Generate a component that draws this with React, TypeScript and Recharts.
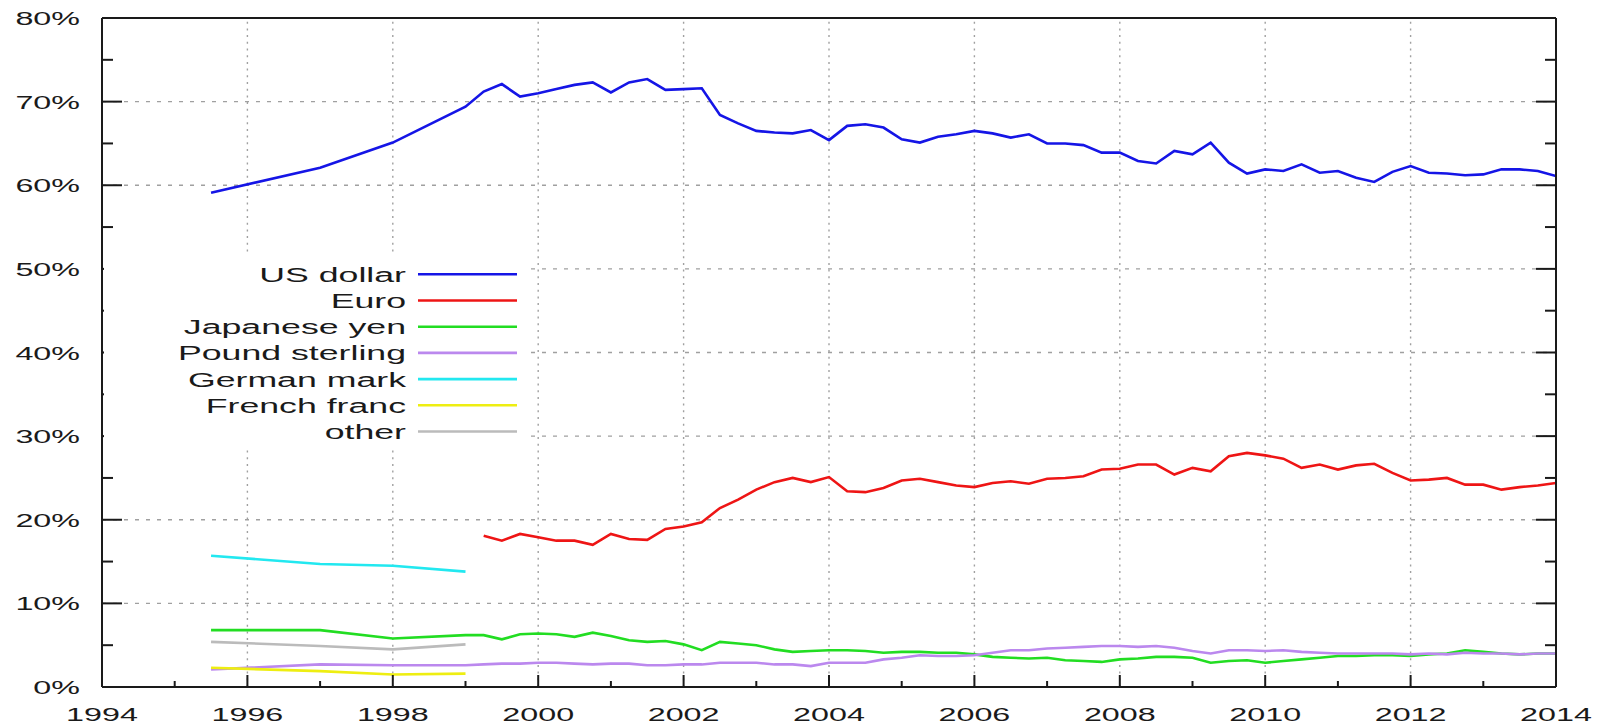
import React from 'react';
import { LineChart, Line, XAxis, YAxis, ReferenceLine, Legend } from 'recharts';

// x positions: annual points before the euro, then quarterly from 1999
const years = [
  1995.5, 1997, 1998, 1999,
  1999.25, 1999.5, 1999.75,
  2000, 2000.25, 2000.5, 2000.75,
  2001, 2001.25, 2001.5, 2001.75,
  2002, 2002.25, 2002.5, 2002.75,
  2003, 2003.25, 2003.5, 2003.75,
  2004, 2004.25, 2004.5, 2004.75,
  2005, 2005.25, 2005.5, 2005.75,
  2006, 2006.25, 2006.5, 2006.75,
  2007, 2007.25, 2007.5, 2007.75,
  2008, 2008.25, 2008.5, 2008.75,
  2009, 2009.25, 2009.5, 2009.75,
  2010, 2010.25, 2010.5, 2010.75,
  2011, 2011.25, 2011.5, 2011.75,
  2012, 2012.25, 2012.5, 2012.75,
  2013, 2013.25, 2013.5, 2013.75,
  2014,
];

const usDollar = [
  59.1, 62.1, 65.1, 69.4,
  71.2, 72.1, 70.6,
  71.0, 71.5, 72.0, 72.3,
  71.1, 72.3, 72.7, 71.4,
  71.5, 71.6, 68.4, 67.4,
  66.5, 66.3, 66.2, 66.6,
  65.4, 67.1, 67.3, 66.9,
  65.5, 65.1, 65.8, 66.1,
  66.5, 66.2, 65.7, 66.1,
  65.0, 65.0, 64.8, 63.9,
  63.9, 62.9, 62.6, 64.1,
  63.7, 65.1, 62.7, 61.4,
  61.9, 61.7, 62.5, 61.5,
  61.7, 60.9, 60.4, 61.6,
  62.3, 61.5, 61.4, 61.2,
  61.3, 61.9, 61.9, 61.7,
  61.1,
];

const euro = [
  null, null, null, null,
  18.1, 17.5, 18.3,
  17.9, 17.5, 17.5, 17.0,
  18.3, 17.7, 17.6, 18.9,
  19.2, 19.7, 21.4, 22.4,
  23.6, 24.5, 25.0, 24.5,
  25.1, 23.4, 23.3, 23.8,
  24.7, 24.9, 24.5, 24.1,
  23.9, 24.4, 24.6, 24.3,
  24.9, 25.0, 25.2, 26.0,
  26.1, 26.6, 26.6, 25.4,
  26.2, 25.8, 27.6, 28.0,
  27.7, 27.3, 26.2, 26.6,
  26.0, 26.5, 26.7, 25.6,
  24.7, 24.8, 25.0, 24.2,
  24.2, 23.6, 23.9, 24.1,
  24.4,
];

const japaneseYen = [
  6.8, 6.8, 5.8, 6.2,
  6.2, 5.7, 6.3,
  6.4, 6.3, 6.0, 6.5,
  6.1, 5.6, 5.4, 5.5,
  5.1, 4.4, 5.4, 5.2,
  5.0, 4.5, 4.2, 4.3,
  4.4, 4.4, 4.3, 4.1,
  4.2, 4.2, 4.1, 4.1,
  3.9, 3.6, 3.5, 3.4,
  3.5, 3.2, 3.1, 3.0,
  3.3, 3.4, 3.6, 3.6,
  3.5, 2.9, 3.1, 3.2,
  2.9, 3.1, 3.3, 3.5,
  3.7, 3.7, 3.8, 3.8,
  3.7, 3.9, 4.0, 4.4,
  4.2, 4.0, 3.9, 4.0,
  4.0,
];

const poundSterling = [
  2.1, 2.7, 2.6, 2.6,
  2.7, 2.8, 2.8,
  2.9, 2.9, 2.8, 2.7,
  2.8, 2.8, 2.6, 2.6,
  2.7, 2.7, 2.9, 2.9,
  2.9, 2.7, 2.7, 2.5,
  2.9, 2.9, 2.9, 3.3,
  3.5, 3.8, 3.7, 3.7,
  3.8, 4.1, 4.4, 4.4,
  4.6, 4.7, 4.8, 4.9,
  4.9, 4.8, 4.9, 4.7,
  4.3, 4.0, 4.4, 4.4,
  4.3, 4.4, 4.2, 4.1,
  4.0, 4.0, 4.0, 4.0,
  3.9, 4.0, 3.9, 4.1,
  4.0, 4.0, 3.9, 4.0,
  4.0,
];

// legacy currencies stop at 1999
const germanMark = [15.7, 14.7, 14.5, 13.8];
const frenchFranc = [2.3, 1.9, 1.5, 1.6];
const other = [5.4, 4.9, 4.5, 5.1];

const xTicks = [
  1994, 1995, 1996, 1997, 1998, 1999, 2000, 2001, 2002, 2003, 2004,
  2005, 2006, 2007, 2008, 2009, 2010, 2011, 2012, 2013, 2014,
];
const yTicks = [0, 5, 10, 15, 20, 25, 30, 35, 40, 45, 50, 55, 60, 65, 70, 75, 80];
const gridYears = [1996, 1998, 2000, 2002, 2004, 2006, 2008, 2010, 2012];
const gridPercents = [10, 20, 30, 40, 50, 60, 70];

const chartData = years.map((year, i) => ({
  year,
  usd: usDollar[i] ?? null,
  eur: euro[i] ?? null,
  jpy: japaneseYen[i] ?? null,
  gbp: poundSterling[i] ?? null,
  dem: germanMark[i] ?? null,
  frf: frenchFranc[i] ?? null,
  other: other[i] ?? null,
}));

const series = [
  { key: 'usd', name: 'US dollar', color: '#1515e6' },
  { key: 'eur', name: 'Euro', color: '#ee1515' },
  { key: 'jpy', name: 'Japanese yen', color: '#22dd22' },
  { key: 'gbp', name: 'Pound sterling', color: '#bb88ee' },
  { key: 'dem', name: 'German mark', color: '#22e8f0' },
  { key: 'frf', name: 'French franc', color: '#eeee11' },
  { key: 'other', name: 'other', color: '#bbbbbb' },
];

const FONT = '"Liberation Sans", Arial, sans-serif';
const STRETCH = 1.7;
const INK = '#1a1a1a';

const BottomTick = (props: any) => {
  const { x, y, payload } = props;
  const major = payload.value % 2 === 0;
  return (
    <g>
      <line x1={x} y1={y} x2={x} y2={y - (major ? 12 : 6)} stroke={INK} strokeWidth={2} />
      {major && (
        <text
          transform={`translate(${x},${y + 34}) scale(${STRETCH},1)`}
          textAnchor="middle"
          fontFamily={FONT}
          fontSize={19}
          fill={INK}
        >
          {payload.value}
        </text>
      )}
    </g>
  );
};

const TopTick = (props: any) => {
  const { x, y, payload } = props;
  const major = payload.value % 2 === 0;
  return <line x1={x} y1={y} x2={x} y2={y + (major ? 12 : 6)} stroke={INK} strokeWidth={2} />;
};

const LeftTick = (props: any) => {
  const { x, y, payload } = props;
  const major = payload.value % 10 === 0;
  return (
    <g>
      <line x1={x} y1={y} x2={x + (major ? 20 : 11)} y2={y} stroke={INK} strokeWidth={2} />
      {major && (
        <text
          transform={`translate(${x - 22},${y + 7}) scale(${STRETCH},1)`}
          textAnchor="end"
          fontFamily={FONT}
          fontSize={19}
          fill={INK}
        >
          {`${payload.value}%`}
        </text>
      )}
    </g>
  );
};

const RightTick = (props: any) => {
  const { x, y, payload } = props;
  const major = payload.value % 10 === 0;
  return <line x1={x} y1={y} x2={x - (major ? 20 : 11)} y2={y} stroke={INK} strokeWidth={2} />;
};

// keep the legend in series order (gnuplot key order), not alphabetical
const seriesOrder = (name: string) => series.findIndex((s) => s.name === name);

const renderLegend = (props: any) => {
  const entries = [...(props.payload || [])].sort(
    (a: any, b: any) => seriesOrder(a.value) - seriesOrder(b.value)
  );
  return (
    <svg width={421} height={190} style={{ display: 'block' }}>
      <rect width={421} height={190} fill="#fff" />
      {entries.map((entry: any, i: number) => {
        const cy = 18.3 + i * 26.2;
        return (
          <g key={entry.value}>
            <text
              transform={`translate(302,${cy + 7.5}) scale(${STRETCH},1)`}
              textAnchor="end"
              fontFamily={FONT}
              fontSize={21}
              fill={INK}
            >
              {entry.value}
            </text>
            <line x1={314} x2={413} y1={cy} y2={cy} stroke={entry.color} strokeWidth={2.6} />
          </g>
        );
      })}
    </svg>
  );
};

export default function App() {
  return (
    <div style={{ position: 'absolute', left: 0, top: 0, background: '#fff' }}>
      <LineChart width={1599} height={724} data={chartData} margin={{ top: 0, right: 0, bottom: 0, left: 0 }}>
        {gridYears.map((yr) => (
          <ReferenceLine key={`gx${yr}`} x={yr} stroke="#a0a0a0" strokeWidth={1.4} strokeDasharray="2 4.7" />
        ))}
        {gridPercents.map((p) => (
          <ReferenceLine key={`gy${p}`} y={p} stroke="#a0a0a0" strokeWidth={1.4} strokeDasharray="4 7" />
        ))}
        <XAxis
          dataKey="year"
          type="number"
          domain={[1994, 2014]}
          ticks={xTicks}
          interval={0}
          height={37}
          tickSize={0}
          tickMargin={0}
          tickLine={false}
          axisLine={{ stroke: INK, strokeWidth: 2 }}
          tick={<BottomTick />}
          allowDataOverflow
        />
        <XAxis
          xAxisId="top"
          orientation="top"
          type="number"
          domain={[1994, 2014]}
          ticks={xTicks}
          interval={0}
          height={18}
          tickSize={0}
          tickMargin={0}
          tickLine={false}
          axisLine={{ stroke: INK, strokeWidth: 2 }}
          tick={<TopTick />}
          allowDataOverflow
        />
        <YAxis
          type="number"
          domain={[0, 80]}
          ticks={yTicks}
          interval={0}
          width={102}
          tickSize={0}
          tickMargin={0}
          tickLine={false}
          axisLine={{ stroke: INK, strokeWidth: 2 }}
          tick={<LeftTick />}
          allowDataOverflow
        />
        <YAxis
          yAxisId="right"
          orientation="right"
          type="number"
          domain={[0, 80]}
          ticks={yTicks}
          interval={0}
          width={43}
          tickSize={0}
          tickMargin={0}
          tickLine={false}
          axisLine={{ stroke: INK, strokeWidth: 2 }}
          tick={<RightTick />}
          allowDataOverflow
        />
        <Legend
          content={renderLegend}
          layout="horizontal"
          verticalAlign="middle"
          align="center"
          wrapperStyle={{ position: 'absolute', left: 104, top: 256, width: 421, height: 190, margin: 0, padding: 0 }}
        />
        {series.map((s) => (
          <Line
            key={s.key}
            type="linear"
            dataKey={s.key}
            name={s.name}
            stroke={s.color}
            strokeWidth={2.6}
            dot={false}
            activeDot={false}
            connectNulls={false}
            isAnimationActive={false}
          />
        ))}
      </LineChart>
    </div>
  );
}
